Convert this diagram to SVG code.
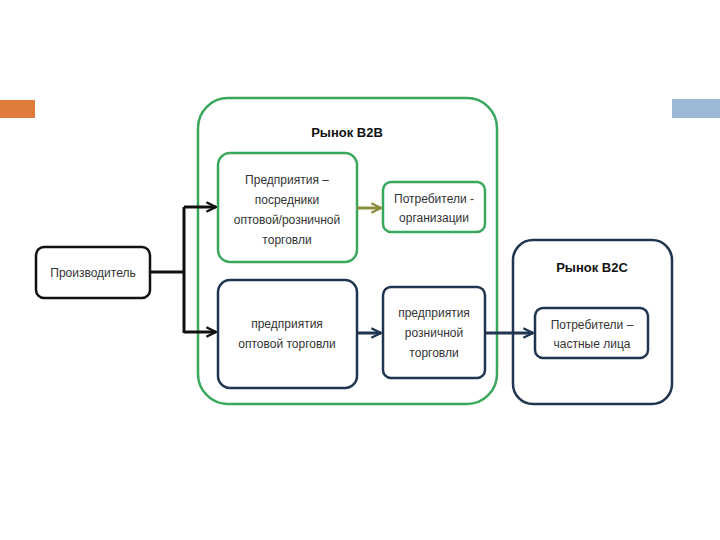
<svg xmlns="http://www.w3.org/2000/svg" width="720" height="540" viewBox="0 0 720 540">
<defs>
<style>
.t{font-family:"Liberation Sans",Arial,sans-serif;font-size:12px;fill:#333;text-anchor:middle}
.h{font-family:"Liberation Sans",Arial,sans-serif;font-size:13px;font-weight:bold;fill:#111;text-anchor:middle}
.g{fill:#fff;stroke:#3aa85c;stroke-width:2.5}
.n{fill:#fff;stroke:#1f3550;stroke-width:2.5}
.k{fill:#fff;stroke:#111;stroke-width:2.5}
.c{fill:none;stroke-width:3}
</style>
<marker id="ak" viewBox="0 0 10 10" refX="9" refY="5" markerWidth="4" markerHeight="4" orient="auto" markerUnits="strokeWidth"><path d="M1,1 L9,5 L1,9" fill="none" stroke="#111" stroke-width="2"/></marker>
<marker id="an" viewBox="0 0 10 10" refX="9" refY="5" markerWidth="4" markerHeight="4" orient="auto" markerUnits="strokeWidth"><path d="M1,1 L9,5 L1,9" fill="none" stroke="#1f3550" stroke-width="2"/></marker>
<marker id="ao" viewBox="0 0 10 10" refX="9" refY="5" markerWidth="4" markerHeight="4" orient="auto" markerUnits="strokeWidth"><path d="M1,1 L9,5 L1,9" fill="none" stroke="#8a8f3c" stroke-width="2"/></marker>
</defs>
<rect width="720" height="540" fill="#fff"/>
<rect x="0" y="100" width="35" height="18" fill="#e07b3c"/>
<rect x="672" y="99" width="48" height="19" fill="#9cb9d6"/>

<g id="b2b">
<rect class="g" x="198" y="98" width="299" height="306" rx="30"/>
<text class="h" x="347" y="137">Рынок B2B</text>
</g>
<g id="b2c">
<rect class="n" x="513" y="240" width="159" height="164" rx="20"/>
<text class="h" x="592" y="272">Рынок B2C</text>
</g>
<g id="producer">
<rect class="k" x="36" y="247" width="114" height="51" rx="8"/>
<text class="t" x="93" y="277">Производитель</text>
</g>
<g id="intermediaries">
<rect class="g" x="218" y="153" width="139" height="109" rx="12"/>
<text class="t" x="287" y="184">Предприятия –</text>
<text class="t" x="287" y="204">посредники</text>
<text class="t" x="287" y="224">оптовой/розничной</text>
<text class="t" x="287" y="244">торговли</text>
</g>
<g id="orgs">
<rect class="g" x="383" y="182" width="102" height="50" rx="8"/>
<text class="t" x="434" y="203">Потребители -</text>
<text class="t" x="434" y="222">организации</text>
</g>
<g id="wholesale">
<rect class="n" x="218" y="280" width="139" height="108" rx="12"/>
<text class="t" x="287" y="328">предприятия</text>
<text class="t" x="287" y="348">оптовой торговли</text>
</g>
<g id="retail">
<rect class="n" x="383" y="287" width="102" height="91" rx="8"/>
<text class="t" x="434" y="317">предприятия</text>
<text class="t" x="434" y="337">розничной</text>
<text class="t" x="434" y="357">торговли</text>
</g>
<g id="private">
<rect class="n" x="535" y="308" width="113" height="50" rx="8"/>
<text class="t" x="592" y="329">Потребители –</text>
<text class="t" x="592" y="348">частные лица</text>
</g>

<g id="connectors">
<path class="c" stroke="#111" d="M150,272 H184"/>
<path class="c" stroke="#111" d="M184,207 V333"/>
<path class="c" stroke="#111" d="M184,207 H216" marker-end="url(#ak)"/>
<path class="c" stroke="#111" d="M184,332 H216" marker-end="url(#ak)"/>
<path class="c" stroke="#8a8f3c" d="M357,208 H381" marker-end="url(#ao)"/>
<path class="c" stroke="#1f3550" d="M357,333 H381" marker-end="url(#an)"/>
<path class="c" stroke="#1f3550" d="M485,333 H533" marker-end="url(#an)"/>
</g>
</svg>
